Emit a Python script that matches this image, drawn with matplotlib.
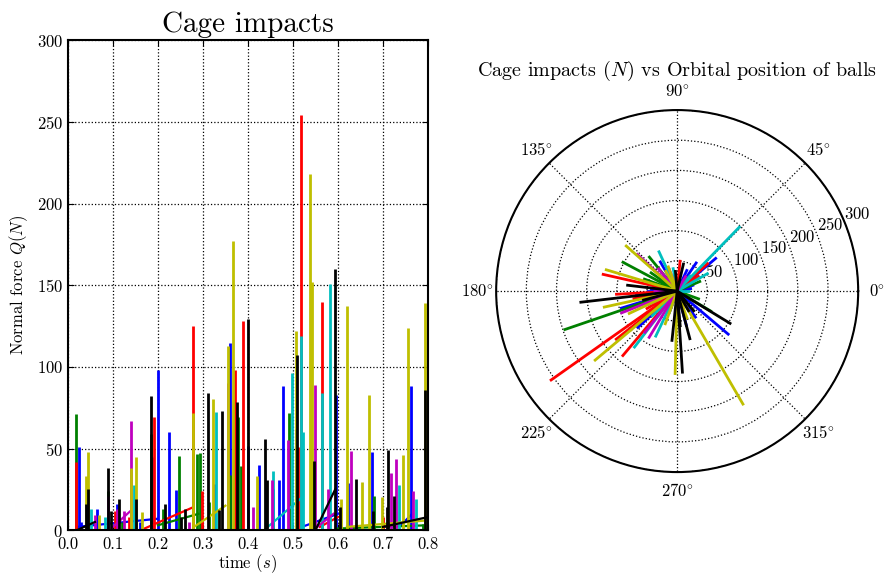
import numpy as np
import matplotlib
matplotlib.use("Agg")
import matplotlib.pyplot as plt
from matplotlib.ticker import FuncFormatter

plt.rcParams["font.family"] = ["cmr10", "DejaVu Serif"]
plt.rcParams["mathtext.fontset"] = "cm"
plt.rcParams["axes.formatter.use_mathtext"] = True
plt.rcParams["axes.unicode_minus"] = False

COLORS = ["b", "g", "r", "c", "m", "y", "k"]

# --- left panel: impact spikes per ball, time (s) and force (N) ---
spike_t = {
    "b": [0.024, 0.03, 0.065, 0.108, 0.16, 0.186, 0.199, 0.225, 0.241, 0.327, 0.361, 0.370,
          0.401, 0.424, 0.455, 0.468, 0.479, 0.506, 0.595, 0.623, 0.675, 0.762, 0.796],
    "g": [0.017, 0.089, 0.12, 0.184, 0.212, 0.246, 0.286, 0.293, 0.313, 0.360, 0.377,
          0.384, 0.491, 0.681, 0.79],
    "r": [0.017, 0.105, 0.135, 0.191, 0.278, 0.297, 0.372, 0.388, 0.511, 0.518, 0.564, 0.70],
    "c": [0.052, 0.082, 0.146, 0.330, 0.44, 0.455, 0.497, 0.518, 0.523, 0.564, 0.583,
          0.736, 0.774],
    "m": [0.059, 0.089, 0.109, 0.125, 0.140, 0.27, 0.356, 0.412, 0.453, 0.490, 0.549,
          0.579, 0.629, 0.718, 0.729, 0.767],
    "y": [0.039, 0.045, 0.070, 0.140, 0.151, 0.165, 0.278, 0.323, 0.356, 0.366, 0.421,
          0.506, 0.537, 0.542, 0.606, 0.621, 0.653, 0.669, 0.698, 0.744, 0.755, 0.794],
    "k": [0.039, 0.045, 0.089, 0.096, 0.113, 0.151, 0.184, 0.215, 0.252, 0.260, 0.312,
          0.335, 0.342, 0.375, 0.401, 0.438, 0.443, 0.510, 0.547, 0.594, 0.605, 0.640,
          0.678, 0.709, 0.711, 0.725, 0.794],
}
spike_q = {
    "b": [51, 5, 13, 16, 5, 45, 98, 60, 24.5, 28, 114.7, 43, 51.6, 40, 25, 30.6, 88, 62,
          82.7, 28.6, 48, 88, 14],
    "g": [71.4, 24, 5, 59, 13, 45.5, 46.5, 47, 17, 34, 69, 39, 72, 21, 4],
    "r": [42, 12, 8, 69, 125, 24, 98, 128, 51, 254, 140, 8],
    "c": [13, 8, 27.5, 72.5, 6, 36, 96, 119, 60, 84, 150.6, 27.5, 19],
    "m": [9, 21, 13, 12, 67, 5, 90, 14, 31, 55, 89, 25.5, 48.6, 35, 43.5, 24],
    "y": [33, 48, 9, 38, 44.5, 11, 72, 80.6, 113, 177, 33, 122, 218, 152, 19, 137, 29.6,
          82.7, 20, 46, 124, 139],
    "k": [16, 25, 38, 12, 19, 19, 82, 16, 8, 13, 84, 12.6, 73, 78.6, 129.6, 56, 30.6, 107,
          42.5, 160, 14, 31.6, 12, 14, 49, 21, 85.7],
}
# slow drifts between impacts
drift_t = {
    "b": [[0.02, 0.2], [0.52, 0.6], [0.74, 0.765]],
    "g": [[0.2, 0.29], [0.6, 0.8]],
    "r": [[0.17, 0.278], [0.56, 0.6]],
    "c": [[0.44, 0.52]],
    "m": [[0.10, 0.14], [0.55, 0.59]],
    "y": [[0.28, 0.35], [0.62, 0.8]],
    "k": [[0.55, 0.594], [0.70, 0.80], [0.02, 0.06]],
}
drift_q = {
    "b": [[2, 7], [2, 10], [3, 10]],
    "g": [[3, 10], [1, 3]],
    "r": [[1, 14], [2, 8]],
    "c": [[1, 20]],
    "m": [[2, 12], [1, 10]],
    "y": [[2, 15], [2, 6]],
    "k": [[0, 25], [2, 8], [0, 5]],
}

# --- right panel: orbital position (deg) and impact force (N) ---
orb_deg = {
    "b": [319.8, 221, 198.4, 120, 56, 40.3, 285, 181, 197, 222.8, 305, 20, 150, 10,
          185, 175, 65, 250],
    "g": [198.9, 152, 129.3, 329.2, 22.9, 200, 160, 240, 340, 145, 210],
    "r": [215.2, 218.3, 229.9, 167.3, 183, 84.5, 42, 210, 250, 300, 100, 35, 190],
    "c": [45.8, 232.7, 244.6, 114.8, 0, 30, 250, 100, 50, 225],
    "m": [201.4, 137.4, 232, 238.8, 110, 290, 180, 60, 130, 205],
    "y": [300.2, 268.6, 192.4, 220.1, 163.3, 138.5, 110, 250, 290, 205, 120],
    "k": [273.7, 264, 284.9, 328.6, 186.6, 173.3, 77, 275, 300, 195, 95, 310],
}
orb_q = {
    "b": [113, 88.5, 99.6, 58, 58.5, 86, 61, 50, 98.7, 91, 55, 30, 35, 25,
          70, 45, 40, 35],
    "g": [199, 104, 75, 67, 43, 70, 60, 30, 40, 55, 45],
    "r": [258, 131, 142, 128, 103, 52, 70, 60, 40, 20, 30, 45, 75],
    "c": [150, 119, 85, 74, 21, 60, 40, 40, 35, 60],
    "m": [101, 92, 89, 92, 40, 30, 40, 30, 50, 55],
    "y": [219, 139, 126, 180, 125, 115, 45, 60, 50, 90, 40],
    "k": [137, 84.5, 84, 105, 163, 85, 48, 60, 40, 60, 35, 45],
}

fig = plt.figure(figsize=(8.86, 5.75), dpi=100)

ax = fig.add_axes([0.0767, 0.078, 0.4063, 0.852])
for c in COLORS:
    ax.vlines(spike_t[c], 0, spike_q[c], colors=c, lw=2)
    for tt, qq in zip(drift_t[c], drift_q[c]):
        ax.plot(tt, qq, color=c, lw=1.6)
ax.set_xlim(0, 0.8)
ax.set_ylim(0, 300)
ax.set_xticks(np.arange(0, 0.81, 0.1))
ax.set_xticklabels([f"{v:.1f}" for v in np.arange(0, 0.81, 0.1)])
ax.set_yticks(np.arange(0, 301, 50))
ax.grid(True, color="k", linestyle=":", lw=0.9)
ax.tick_params(direction="in", top=True, right=True, labelsize=12, length=4)
ax.tick_params(axis="x", pad=5)
for s in ax.spines.values():
    s.set_linewidth(1.5)
ax.set_xlabel(r"time $(s)$", fontsize=12, labelpad=0)
ax.set_ylabel(r"Normal force $Q(N)$", fontsize=12, labelpad=5)
ax.set_title("Cage impacts", fontsize=21, pad=6)

pax = fig.add_axes([0.560, 0.179, 0.4086, 0.6296], projection="polar")
for c in COLORS:
    pax.vlines(np.deg2rad(orb_deg[c]), 0, orb_q[c], colors=c, lw=2)
pax.set_ylim(0, 300)
pax.set_yticks([50, 100, 150, 200, 250, 300])
pax.set_rlabel_position(22.5)
pax.set_xticks(np.deg2rad(np.arange(0, 360, 45)))
pax.xaxis.set_major_formatter(FuncFormatter(lambda x, pos: r"$%d\!^\circ$" % round(np.degrees(x))))
pax.grid(True, color="k", linestyle=":", lw=0.9)
pax.tick_params(labelsize=12)
pax.tick_params(axis="x", pad=3)
pax.spines["polar"].set_linewidth(1.5)
pax.set_title(r"Cage impacts $(N)$ vs Orbital position of balls", fontsize=14.5, pad=4)

fig.savefig("out.png", dpi=100)
